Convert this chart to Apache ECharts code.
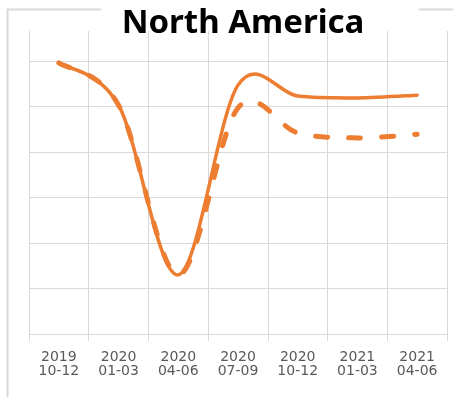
<!DOCTYPE html>
<html>
<head>
<meta charset="utf-8">
<script src="https://cdn.jsdelivr.net/npm/echarts@6/dist/echarts.min.js"></script>
<style>
  html, body { margin: 0; padding: 0; background: #fff; }
  #chart { width: 453px; height: 397px; }
</style>
</head>
<body>
<div id="chart"></div>
<script>
// Quarterly categories shown on the x axis
const quarters = ['2019\n10-12', '2020\n01-03', '2020\n04-06', '2020\n07-09', '2020\n10-12', '2021\n01-03', '2021\n04-06'];
// Solid line values
const actual = [5.96, 5.03, 1.30, 5.47, 5.23, 5.19, 5.25];
// Dashed line values
const outlook = [5.96, 5.03, 1.30, 4.97, 4.42, 4.31, 4.39];

const orange = '#ED7D31';
const grey = '#d9d9d9';

// Smooth curve through every data point (cardinal spline, Bezier form),
// with the points placed by the chart's own axes via api.coord.
function splinePath(api, values) {
  const pts = values.map((v, i) => api.coord([i, v]));
  const n = pts.length;
  let d = 'M' + pts[0][0] + ',' + pts[0][1];
  for (let i = 0; i < n - 1; i++) {
    const p0 = pts[Math.max(i - 1, 0)];
    const p1 = pts[i];
    const p2 = pts[i + 1];
    const p3 = pts[Math.min(i + 2, n - 1)];
    const c1x = p1[0] + (p2[0] - p0[0]) / 6, c1y = p1[1] + (p2[1] - p0[1]) / 6;
    const c2x = p2[0] - (p3[0] - p1[0]) / 6, c2y = p2[1] - (p3[1] - p1[1]) / 6;
    d += ' C' + c1x + ',' + c1y + ' ' + c2x + ',' + c2y + ' ' + p2[0] + ',' + p2[1];
  }
  return d;
}

function curveSeries(name, values, lineStyle, z) {
  return {
    name: name,
    type: 'custom',
    coordinateSystem: 'cartesian2d',
    z: z,
    silent: true,
    encode: { x: 0, y: 1 },
    data: values.map((v, i) => [i, v]),
    renderItem: function (params, api) {
      if (params.dataIndex !== 0) return null;
      return {
        type: 'path',
        shape: { pathData: splinePath(api, values) },
        style: Object.assign({ fill: 'none', stroke: orange, lineCap: 'round', lineJoin: 'round' }, lineStyle)
      };
    }
  };
}

const chart = echarts.init(document.getElementById('chart'), null, { renderer: 'canvas' });

chart.setOption({
  animation: false,
  backgroundColor: '#fff',
  grid: { left: 29, right: 6, top: 31, bottom: 63, containLabel: false },
  graphic: [
    // outer chart frame (top edge broken by the title)
    { type: 'polyline', z: 0, silent: true,
      shape: { points: [[101, 9.5], [7.5, 9.5], [7.5, 400]] },
      style: { stroke: grey, lineWidth: 2, fill: null } },
    { type: 'line', z: 0, silent: true,
      shape: { x1: 419, y1: 9.5, x2: 460, y2: 9.5 },
      style: { stroke: grey, lineWidth: 2 } },
    { type: 'text', z: 10, silent: true,
      style: { x: 243, y: 24, text: 'North America', textAlign: 'center', textVerticalAlign: 'middle',
               font: 'bold 33px "Noto Sans"', fill: '#000' } }
  ],
  xAxis: {
    type: 'category',
    data: quarters,
    boundaryGap: true,
    axisLine: { show: true, lineStyle: { color: grey, width: 1 } },
    axisTick: { show: true, length: 7, interval: 0, lineStyle: { color: grey } },
    splitLine: { show: true, interval: 0, lineStyle: { color: grey, width: 1 } },
    axisLabel: {
      interval: 0, margin: 16, color: '#595959',
      fontFamily: 'DejaVu Sans', fontSize: 14, lineHeight: 14
    }
  },
  yAxis: {
    type: 'value',
    min: 0, max: 6.66, interval: 1,
    axisLine: { show: true, lineStyle: { color: grey } },
    axisTick: { show: false },
    axisLabel: { show: false },
    splitLine: { show: true, showMaxLine: false, lineStyle: { color: grey, width: 1 } }
  },
  series: [
    curveSeries('Actual', actual, { lineWidth: 3.5 }, 2),
    curveSeries('Outlook', outlook, { lineWidth: 5, lineDash: [12, 21] }, 3)
  ]
});
</script>
</body>
</html>
